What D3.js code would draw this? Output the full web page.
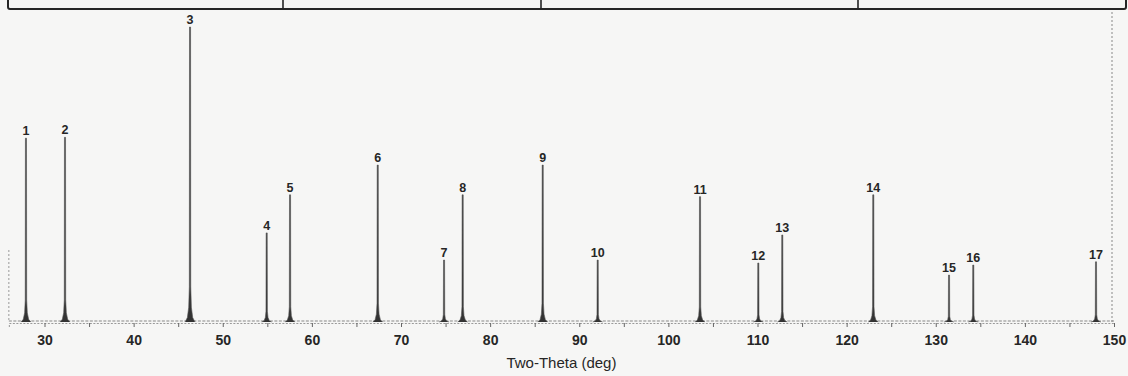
<!DOCTYPE html>
<html>
<head>
<meta charset="utf-8">
<script src="https://cdn.jsdelivr.net/npm/d3@7"></script>
<style>
  html, body { margin: 0; padding: 0; background: #f6f6f5; }
  svg { display: block; font-family: "Liberation Sans", Arial, sans-serif; }
</style>
</head>
<body>
<div id="chart"></div>
<script>
// peak positions (two-theta, deg) and relative intensities
const peakIds = [1, 2, 3, 4, 5, 6, 7, 8, 9, 10, 11, 12, 13, 14, 15, 16, 17];
const peakPos = [27.92, 32.30, 46.33, 54.93, 57.55, 67.39, 74.83, 76.92, 85.90,
                 92.07, 103.55, 110.09, 112.78, 122.99, 131.49, 134.21, 147.98];
const peakInt = [62.3, 62.6, 100, 30.2, 43.1, 53.2, 21.0, 43.1, 53.2,
                 21.0, 42.5, 20.0, 29.5, 43.1, 15.9, 19.3, 20.4];
const tickLabels = [30, 40, 50, 60, 70, 80, 90, 100, 110, 120, 130, 140, 150];

const W = 1128, H = 376;
const ink = "#262626";

const svg = d3.select("#chart").append("svg")
  .attr("width", W).attr("height", H);

// --- escalas ---
const x = d3.scaleLinear().domain([26, 150]).range([8.85, 1114]);
const y = d3.scaleLinear().domain([0, 100]).range([322, 27]);

// caixa da tabela cortada no topo
svg.append("rect")
  .attr("x", 8).attr("y", -6).attr("width", 1118).attr("height", 15)
  .attr("rx", 2)
  .attr("fill", "none").attr("stroke", ink).attr("stroke-width", 2);
[283, 541, 858].forEach(d => {
  svg.append("line")
    .attr("x1", d).attr("x2", d).attr("y1", -6).attr("y2", 9)
    .attr("stroke", ink).attr("stroke-width", 1.6);
});

// bordas pontilhadas do grafico
svg.append("line")
  .attr("x1", x(150) - 2).attr("x2", x(150) - 2)
  .attr("y1", 12).attr("y2", y(0))
  .attr("stroke", "#888").attr("stroke-width", 1).attr("stroke-dasharray", "2,2");
svg.append("line")
  .attr("x1", x(26)).attr("x2", x(26))
  .attr("y1", 250).attr("y2", y(0))
  .attr("stroke", "#999").attr("stroke-width", 1).attr("stroke-dasharray", "2,2");

// linha de fundo (background)
svg.append("line")
  .attr("x1", x(26)).attr("x2", x(150))
  .attr("y1", y(0) - 1).attr("y2", y(0) - 1)
  .attr("stroke", "#888").attr("stroke-width", 1.2).attr("stroke-dasharray", "3,1.5");

// --- eixo X ---
const axis = d3.axisBottom(x)
  .tickValues(d3.range(30, 151, 5))
  .tickSize(4)
  .tickFormat(d => tickLabels.includes(d) ? d : "");

const gx = svg.append("g")
  .attr("transform", `translate(0,${y(0) + 1})`)
  .call(axis);
gx.select(".domain")
  .attr("stroke", "#999").attr("stroke-dasharray", "2,1.5");
gx.selectAll(".tick line").attr("stroke", "#666");
gx.selectAll(".tick text")
  .attr("dy", "1.05em")
  .attr("fill", ink)
  .attr("font-size", 14)
  .attr("font-weight", "bold");

svg.append("text")
  .attr("x", x(88)).attr("y", 368)
  .attr("text-anchor", "middle")
  .attr("fill", ink)
  .attr("font-size", 15)
  .text("Two-Theta (deg)");

// --- picos ---
// perfil do pico: deslocamento em graus e fracao da altura (apenas forma)
const foot = [[-0.55, 0], [-0.3, 0.015], [-0.15, 0.05], [-0.08, 0.12], [-0.06, 1],
              [0.06, 1], [0.08, 0.12], [0.15, 0.05], [0.3, 0.015], [0.55, 0]];

const peaks = peakIds.map((id, i) => ({ id, pos: peakPos[i], inten: peakInt[i] }));

const area = d3.line()
  .x(d => d[0]).y(d => d[1]);

svg.selectAll(".peak")
  .data(peaks)
  .join("path")
  .attr("class", "peak")
  .attr("d", d => area(foot.map(f => [x(d.pos + f[0]), y(d.inten * f[1])])))
  .attr("fill", "#333")
  .attr("stroke", "#555")
  .attr("stroke-width", 0.6);

svg.selectAll(".peak-label")
  .data(peaks)
  .join("text")
  .attr("class", "peak-label")
  .attr("x", d => x(d.pos))
  .attr("y", d => y(d.inten) - 3)
  .attr("text-anchor", "middle")
  .attr("fill", ink)
  .attr("font-size", 12.5)
  .attr("font-weight", "bold")
  .text(d => d.id);
</script>
</body>
</html>
